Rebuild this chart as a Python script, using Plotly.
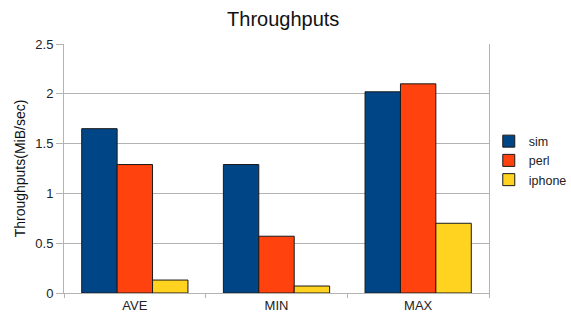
import plotly.graph_objects as go

categories = ["AVE", "MIN", "MAX"]
sim = [1.65, 1.29, 2.02]
perl = [1.29, 0.57, 2.10]
iphone = [0.13, 0.07, 0.70]

series = [("sim", sim, "#004586"), ("perl", perl, "#ff420e"), ("iphone", iphone, "#ffd320")]

fig = go.Figure()
for name, vals, color in series:
    fig.add_trace(go.Bar(
        x=categories, y=vals, name=name,
        marker=dict(color=color, line=dict(color="#1a1a1a", width=1)),
    ))

font_family = "Liberation Sans, Arial, sans-serif"
fig.update_layout(
    width=571, height=321,
    margin=dict(l=64, r=82, t=44, b=28, autoexpand=False),
    paper_bgcolor="white", plot_bgcolor="white",
    barmode="group", bargap=0.25, bargroupgap=0,
    font=dict(family=font_family, size=13, color="#222"),
    title=dict(text="Throughputs", x=0.496, xanchor="center", y=0.94, yanchor="middle",
               font=dict(size=20, color="#111")),
    legend=dict(xref="container", yref="container", x=0.856, xanchor="left",
                y=0.50, yanchor="middle",
                font=dict(size=12.5), tracegroupgap=0, itemwidth=30,
                bgcolor="rgba(0,0,0,0)"),
    showlegend=True,
)
fig.update_xaxes(
    tickson="boundaries", ticks="outside", ticklen=4, tickcolor="#b3b3b3",
    showline=True, linecolor="#b3b3b3", linewidth=1, mirror=False,
    showgrid=False, tickfont=dict(size=13, color="#222"),
)
fig.update_yaxes(
    range=[0, 2.5], dtick=0.5, tickformat="~g",
    ticks="outside", ticklen=7, tickcolor="#b3b3b3",
    showline=True, linecolor="#b3b3b3", linewidth=1, mirror=True,
    showgrid=True, gridcolor="#b3b3b3", gridwidth=1, zeroline=False,
    tickfont=dict(size=13, color="#222"),
    title=dict(text="Throughputs(MiB/sec)", font=dict(size=14, color="#111"), standoff=6),
)

fig.write_html("out.html")
